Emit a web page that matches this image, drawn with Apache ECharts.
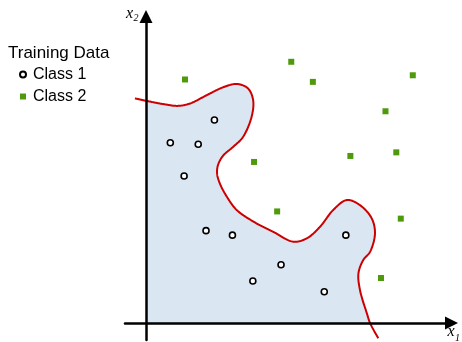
<!DOCTYPE html>
<html>
<head>
<meta charset="utf-8">
<script src="https://cdn.jsdelivr.net/npm/echarts@6/dist/echarts.min.js"></script>
<style>
html,body{margin:0;padding:0;background:#fff;}
#chart{width:462px;height:342px;}
</style>
</head>
<body>
<div id="chart"></div>
<script>
// ---- data (x1, x2 in feature units) ----
const LEGEND_TITLE = 'Training Data';
const CLASS_NAMES = ['Class 1', 'Class 2'];
const CLASS1 = [
  [2.28, 6.77], [0.81, 6.01], [1.74, 5.96], [1.27, 4.90], [2.00, 3.08],
  [2.88, 2.93], [6.66, 2.93], [4.50, 1.94], [3.56, 1.40], [5.94, 1.04]
];
const CLASS2 = [
  [1.30, 8.12], [4.84, 8.71], [5.56, 8.04], [8.89, 8.26], [7.98, 7.06],
  [6.81, 5.57], [8.34, 5.69], [3.60, 5.37], [4.37, 3.72], [8.49, 3.48],
  [7.83, 1.50]
];
// decision boundary
const BOUNDARY = [
  [-0.37, 7.49], [0.00, 7.41], [0.57, 7.30], [1.07, 7.24], [1.47, 7.32],
  [2.03, 7.60], [2.57, 7.86], [3.03, 7.97], [3.40, 7.82], [3.57, 7.43],
  [3.52, 6.88], [3.23, 6.20], [2.90, 5.87], [2.57, 5.58], [2.40, 5.27],
  [2.37, 4.97], [2.47, 4.63], [2.70, 4.20], [3.02, 3.77], [3.58, 3.38],
  [4.24, 3.04], [4.91, 2.71], [5.37, 2.83], [5.80, 3.21], [6.24, 3.77],
  [6.69, 4.10], [7.13, 3.93], [7.52, 3.49], [7.63, 2.99], [7.47, 2.38],
  [7.24, 2.10], [7.08, 1.66], [7.13, 1.10], [7.36, 0.32], [7.47, -0.01],
  [7.74, -0.51]
];
const X_RANGE = [-0.7, 10.18];
const Y_RANGE = [-0.567, 10.22];

// centripetal Catmull-Rom through pixel points
function smoothPoints(pts, steps) {
  const out = [];
  const n = pts.length;
  const dist = (a, b) => Math.pow(Math.hypot(b[0] - a[0], b[1] - a[1]), 0.5);
  for (let i = 0; i < n - 1; i++) {
    const p1 = pts[i], p2 = pts[i + 1];
    const p0 = i > 0 ? pts[i - 1] : [2 * p1[0] - p2[0], 2 * p1[1] - p2[1]];
    const p3 = i + 2 < n ? pts[i + 2] : [2 * p2[0] - p1[0], 2 * p2[1] - p1[1]];
    const d1 = dist(p0, p1), d2 = dist(p1, p2), d3 = dist(p2, p3);
    const c1 = [0, 0], c2 = [0, 0];
    for (let k = 0; k < 2; k++) {
      c1[k] = (d1 * d1 * p2[k] - d2 * d2 * p0[k] + (2 * d1 * d1 + 3 * d1 * d2 + d2 * d2) * p1[k]) / (3 * d1 * (d1 + d2));
      c2[k] = (d3 * d3 * p1[k] - d2 * d2 * p3[k] + (2 * d3 * d3 + 3 * d3 * d2 + d2 * d2) * p2[k]) / (3 * d3 * (d3 + d2));
    }
    for (let s = 0; s < steps; s++) {
      const t = s / steps, u = 1 - t;
      out.push([
        u*u*u*p1[0] + 3*u*u*t*c1[0] + 3*u*t*t*c2[0] + t*t*t*p2[0],
        u*u*u*p1[1] + 3*u*u*t*c1[1] + 3*u*t*t*c2[1] + t*t*t*p2[1]
      ]);
    }
  }
  out.push(pts[n - 1]);
  return out;
}

const chart = echarts.init(document.getElementById('chart'), null, {renderer: 'canvas'});
const SANS = '"Liberation Sans", Arial, sans-serif';
const SERIF = '"Liberation Serif", "Times New Roman", serif';

const option = {
  animation: false,
  backgroundColor: '#fff',
  title: {
    text: LEGEND_TITLE, left: 8, top: 45, padding: 0,
    textStyle: {fontSize: 17, fontWeight: 'normal', color: '#000', fontFamily: SANS}
  },
  legend: {
    orient: 'vertical', left: 19, top: 66, padding: 0,
    itemWidth: 6, itemHeight: 6, itemGap: 5,
    data: CLASS_NAMES,
    textStyle: {fontSize: 16, lineHeight: 17, color: '#000', fontFamily: SANS, padding: [0, 0, 0, 2]}
  },
  grid: {left: 125, right: 10.5, top: 16.5, bottom: 2, containLabel: false},
  xAxis: {
    type: 'value', min: X_RANGE[0], max: X_RANGE[1], z: 10,
    axisLine: {onZero: true, symbol: ['none', 'triangle'], symbolSize: [13, 13], lineStyle: {color: '#000', width: 2.5}},
    axisTick: {show: false}, axisLabel: {show: false}, splitLine: {show: false}
  },
  yAxis: {
    type: 'value', min: Y_RANGE[0], max: Y_RANGE[1], z: 10,
    axisLine: {onZero: true, symbol: ['none', 'triangle'], symbolSize: [13, 13], lineStyle: {color: '#000', width: 2.5}},
    axisTick: {show: false}, axisLabel: {show: false}, splitLine: {show: false}
  },
  graphic: [
    {type: 'text', x: 126, y: 22, z: 20, style: {text: 'x', fill: '#000', font: 'italic 16px ' + SERIF, verticalAlign: 'bottom'}},
    {type: 'text', x: 133.5, y: 23, z: 20, style: {text: '2', fill: '#000', font: 'italic 10px ' + SERIF, verticalAlign: 'bottom'}},
    {type: 'text', x: 447.5, y: 340, z: 20, style: {text: 'x', fill: '#000', font: 'italic 16px ' + SERIF, verticalAlign: 'bottom'}},
    {type: 'text', x: 455, y: 343, z: 20, style: {text: '1', fill: '#000', font: 'italic 10px ' + SERIF, verticalAlign: 'bottom'}}
  ],
  series: [
    {
      type: 'custom', name: 'boundary', z: 1, clip: false, silent: true,
      data: [[0, 0]],
      renderItem: function (params, api) {
        const px = BOUNDARY.map(p => api.coord(p));
        const sm = smoothPoints(px, 20);
        const o = api.coord([0, 0]);
        const fillPts = sm.map(p => [Math.max(p[0], o[0]), Math.min(p[1], o[1])]);
        fillPts.push([o[0], o[1]]);
        return {
          type: 'group',
          children: [
            {type: 'polygon', shape: {points: fillPts}, style: {fill: '#dae6f2', stroke: null}},
            {type: 'polyline', shape: {points: sm}, style: {fill: null, stroke: '#cc0000', lineWidth: 2, lineJoin: 'round'}}
          ]
        };
      }
    },
    {
      type: 'scatter', name: CLASS_NAMES[0], data: CLASS1, z: 5,
      symbol: 'circle', symbolSize: 6,
      itemStyle: {color: '#fff', borderColor: '#000', borderWidth: 1.6, opacity: 1}
    },
    {
      type: 'scatter', name: CLASS_NAMES[1], data: CLASS2, z: 5,
      symbol: 'rect', symbolSize: 6,
      itemStyle: {color: '#4e9a0c', opacity: 1}
    }
  ]
};
chart.setOption(option);
</script>
</body>
</html>
